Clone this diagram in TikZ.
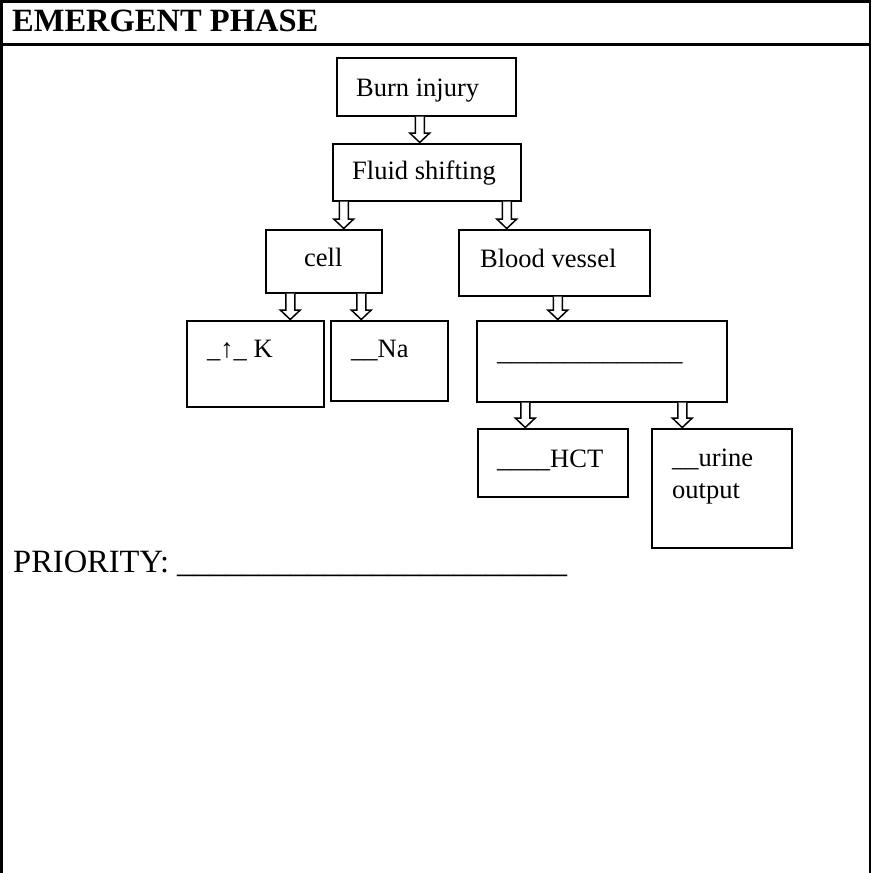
\documentclass[tikz,border=0pt]{standalone}
\usepackage{fontspec}
\setmainfont{Liberation Serif}
\usetikzlibrary{calc}

\tikzset{
  frameline/.style={line width=2.6pt, line cap=rect},
  box/.style={draw, line width=1.5pt, rectangle, inner sep=0pt, anchor=north west},
  lbl/.style={anchor=base west, inner sep=0pt, font=\fontsize{26.5}{30}\selectfont},
  biglbl/.style={anchor=base west, inner sep=0pt, font=\fontsize{32.5}{38}\selectfont},
  hollow/.style={draw, line width=1.5pt, line join=miter, fill=white}
}

% open block arrow: x taken from the first point, tip at the y of the second
\newcommand\hollowarrow[2]{%
  \draw[hollow] let \p1=(#1), \p2=(#2) in
    (\x1-4.5pt,\y1) -- (\x1-4.5pt,\y2+10pt) -- (\x1-10pt,\y2+10pt) -- (\x1,\y2+0.5pt)
    -- (\x1+10pt,\y2+10pt) -- (\x1+4.5pt,\y2+10pt) -- (\x1+4.5pt,\y1);
}

\begin{document}
\begin{tikzpicture}[x=1pt, y=-1pt]
\useasboundingbox (0,0) rectangle (871,873);

% table frame and header rule
\draw[frameline] (1.3,873) -- (1.3,1.5) -- (869.8,1.5) -- (869.8,873);
\draw[frameline] (1.3,44.5) -- (869.8,44.5);
\node[biglbl, font=\fontsize{32.5}{38}\selectfont\bfseries] (title) at (12,31.5) {EMERGENT PHASE};

% boxes
\node[box, minimum width=179pt, minimum height=58pt] (burn)  at (336,57)  {};
\node[box, minimum width=188pt, minimum height=57pt] (fluid) at (332,143) {};
\node[box, minimum width=116pt, minimum height=63pt] (cell)  at (265,229) {};
\node[box, minimum width=191pt, minimum height=66pt] (blood) at (458,229) {};
\node[box, minimum width=137pt, minimum height=86pt] (pot)   at (186,320) {};
\node[box, minimum width=117pt, minimum height=80pt] (sod)   at (330,320) {};
\node[box, minimum width=250pt, minimum height=81pt] (blank) at (476,320) {};
\node[box, minimum width=150pt, minimum height=68pt] (hct)   at (477,428) {};
\node[box, minimum width=140pt, minimum height=119pt] (urine) at (651,428) {};

% box texts
\node[lbl] (burnT)  at (356,96)  {Burn injury};
\node[lbl] (fluidT) at (352,179) {Fluid shifting};
\node[lbl] (cellT)  at (304,266) {cell};
\node[lbl] (bloodT) at (480,267) {Blood vessel};
\node[lbl] (potT)   at (207,357) {\_↑\_ K};
\node[lbl] (sodT)   at (351,357) {\_\_Na};
\node[lbl] (blankT) at (497,360) {\_\_\_\_\_\_\_\_\_\_\_\_\_\_};
\node[lbl] (hctT)   at (497,467) {\_\_\_\_HCT};
\node[lbl] (urineT) at (672,466) {\_\_urine};
\node[lbl] (urineU) at (672,498) {output};

% priority line
\node[biglbl] (prio) at (13,572) {PRIORITY: \_\_\_\_\_\_\_\_\_\_\_\_\_\_\_\_\_\_\_\_\_\_\_\_};

% arrows
\hollowarrow{[xshift=-6.5pt]burn.south}{fluid.north}
\hollowarrow{[xshift=-83pt]fluid.south}{cell.north}
\hollowarrow{[xshift=80pt]fluid.south}{blood.north}
\hollowarrow{[xshift=-33.5pt]cell.south}{pot.north}
\hollowarrow{[xshift=37.5pt]cell.south}{sod.north}
\hollowarrow{[xshift=3.5pt]blood.south}{blank.north}
\hollowarrow{[xshift=-76.5pt]blank.south}{hct.north}
\hollowarrow{[xshift=80.5pt]blank.south}{urine.north}
\end{tikzpicture}
\end{document}
